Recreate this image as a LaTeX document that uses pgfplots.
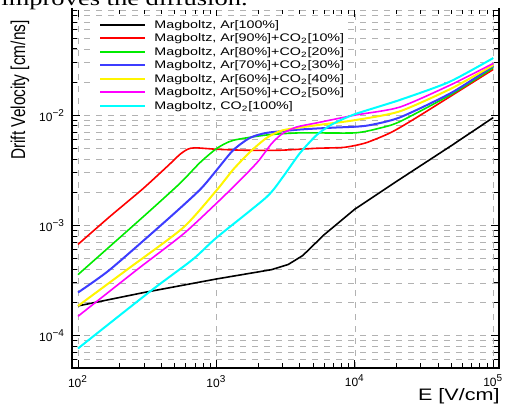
\documentclass[border=0pt]{standalone}
\usepackage{fontspec}
\setmainfont{Liberation Sans}
\newfontfamily\widefont{Liberation Sans}[FakeStretch=1.3]
\newfontfamily\labfont{Liberation Sans}[FakeStretch=1.3]
\newfontfamily\capfont{Liberation Serif}[FakeStretch=1.3]
\usepackage{graphicx}
\usepackage{pgfplots}
\pgfplotsset{compat=1.18}

\definecolor{rgreen}{RGB}{0,235,0}
\definecolor{rblue}{RGB}{60,60,255}
\definecolor{ryellow}{RGB}{255,245,0}
\definecolor{rmagenta}{RGB}{255,0,255}
\definecolor{rcyan}{RGB}{0,255,255}

\begin{document}
\begin{tikzpicture}
\useasboundingbox (-36pt,-17.5pt) rectangle (216.5pt,184pt);
\begin{axis}[
at={(0,0)}, anchor=south west,
scale only axis,
width=213.5pt, height=179.5pt,
xmode=log, ymode=log,
xmin=90.5, xmax=110000,
ymin=5.05e-5, ymax=0.092,
xtick={100,1000,10000,100000},
xticklabels={10\textsuperscript{2},10\textsuperscript{3},10\textsuperscript{4},10\textsuperscript{5}},
minor xtick={200,300,400,500,600,700,800,900,2000,3000,4000,5000,6000,7000,8000,9000,20000,30000,40000,50000,60000,70000,80000,90000},
ytick={1e-4,1e-3,1e-2},
yticklabels={10\textsuperscript{−4},10\textsuperscript{−3},10\textsuperscript{−2}},
minor ytick={6e-5,7e-5,8e-5,9e-5,2e-4,3e-4,4e-4,5e-4,6e-4,7e-4,8e-4,9e-4,2e-3,3e-3,4e-3,5e-3,6e-3,7e-3,8e-3,9e-3,2e-2,3e-2,4e-2,5e-2,6e-2,7e-2,8e-2,9e-2},
tick label style={font=\fontsize{6}{7}\selectfont},
xmajorgrids, ymajorgrids, yminorgrids,
major grid style={dashed, gray!60, line width=0.3pt},
minor grid style={dashed, gray!60, line width=0.3pt},
axis line style={line width=0.8pt},
tick style={black, line width=0.4pt},
major tick length=4pt, minor tick length=2.5pt,
every axis plot/.append style={line width=0.8pt, mark=none},
legend cell align=left,
legend image code/.code={\draw[#1, line width=1pt] (0pt,0pt) -- (22.5pt,0pt);},
legend style={draw=none, fill=white, at={(0,1)}, anchor=north west,
  xshift=12pt, yshift=-3.4pt, inner sep=1.5pt, row sep=1.05pt, column sep=4pt,
  font=\widefont\fontsize{5.5}{6}\selectfont,
  nodes={inner sep=0pt, text height=4.5pt, text depth=1.2pt}},
]
\addplot[black] coordinates {(100,1.85e-4) (300,2.45e-4) (1000,3.25e-4) (2500,3.95e-4) (3300,4.4e-4) (4200,5.3e-4) (6000,8.2e-4) (10000,1.4e-3) (20000,2.5e-3) (50000,5.3e-3) (100000,9.5e-3)};
\addlegendentry{Magboltz, Ar[100\%]}
\addplot[red, smooth, tension=0.4] coordinates {(100,6.7e-4) (170,1.2e-3) (295,2.15e-3) (450,3.5e-3) (545,4.4e-3) (620,4.9e-3) (700,5.05e-3) (1000,4.9e-3) (1600,4.8e-3) (2900,4.8e-3) (5300,5.0e-3) (8400,5.1e-3) (12000,5.6e-3) (18000,6.9e-3) (26000,9.0e-3) (49000,0.0148) (100000,0.026)};
\addlegendentry{Magboltz, Ar[90\%]+CO\textsubscript{2}[10\%]}
\addplot[rgreen, smooth, tension=0.4] coordinates {(100,3.56e-4) (295,1.19e-3) (545,2.4e-3) (760,3.7e-3) (1010,5.0e-3) (1320,5.9e-3) (2300,6.6e-3) (4000,6.9e-3) (10000,6.9e-3) (15000,7.6e-3) (21000,8.7e-3) (50000,0.0155) (100000,0.027)};
\addlegendentry{Magboltz, Ar[80\%]+CO\textsubscript{2}[20\%]}
\addplot[rblue, line width=1pt, smooth, tension=0.4] coordinates {(100,2.45e-4) (170,3.95e-4) (440,1.12e-3) (760,2.1e-3) (1010,3.2e-3) (1320,4.8e-3) (1740,6.2e-3) (2300,6.9e-3) (4000,7.4e-3) (7000,7.7e-3) (12000,8.0e-3) (21000,9.5e-3) (50000,0.016) (100000,0.028)};
\addlegendentry{Magboltz, Ar[70\%]+CO\textsubscript{2}[30\%]}
\addplot[ryellow, line width=1pt, smooth, tension=0.4] coordinates {(100,1.85e-4) (226,3.95e-4) (575,9.5e-4) (1010,2.1e-3) (1320,3.2e-3) (1740,4.6e-3) (2300,6.2e-3) (3030,7.3e-3) (5300,8.1e-3) (10000,9.0e-3) (21000,0.0108) (50000,0.0175) (100000,0.0285)};
\addlegendentry{Magboltz, Ar[60\%]+CO\textsubscript{2}[40\%]}
\addplot[rmagenta, smooth, tension=0.4] coordinates {(100,1.49e-4) (267,3.95e-4) (575,8.3e-4) (1010,1.6e-3) (1500,2.6e-3) (2000,3.8e-3) (2500,5.5e-3) (3000,6.8e-3) (3800,7.8e-3) (5300,8.5e-3) (10000,0.0100) (21000,0.0118) (50000,0.019) (100000,0.0295)};
\addlegendentry{Magboltz, Ar[50\%]+CO\textsubscript{2}[50\%]}
\addplot[rcyan, line width=1pt, smooth, tension=0.4] coordinates {(100,7.6e-5) (331,2.5e-4) (676,4.9e-4) (1000,7.7e-4) (2300,1.8e-3) (3030,2.76e-3) (4000,4.5e-3) (5300,6.6e-3) (6900,8.3e-3) (10000,0.0102) (21000,0.0137) (48000,0.020) (100000,0.033)};
\addlegendentry{Magboltz, CO\textsubscript{2}[100\%]}
\end{axis}
% the top frame edge is cropped away in the reference
\draw[white, line width=1pt] (0.6pt,179.5pt) -- (212.9pt,179.5pt);
\node[rotate=90, anchor=east, inner sep=0pt, font=\fontsize{7.7}{9}\selectfont] at (-26pt,174pt) {\scalebox{1}[1.3]{Drift Velocity [cm/ns]}};
\node[anchor=base east, inner sep=0pt, font=\labfont\fontsize{8.3}{9}\selectfont] at (214pt,-16pt) {E [V/cm]};
\node[anchor=base west, inner sep=0pt, font=\capfont\fontsize{10.2}{12}\selectfont] at (-35.5pt,181.5pt) {improves the diffusion.};
\end{tikzpicture}
\end{document}
